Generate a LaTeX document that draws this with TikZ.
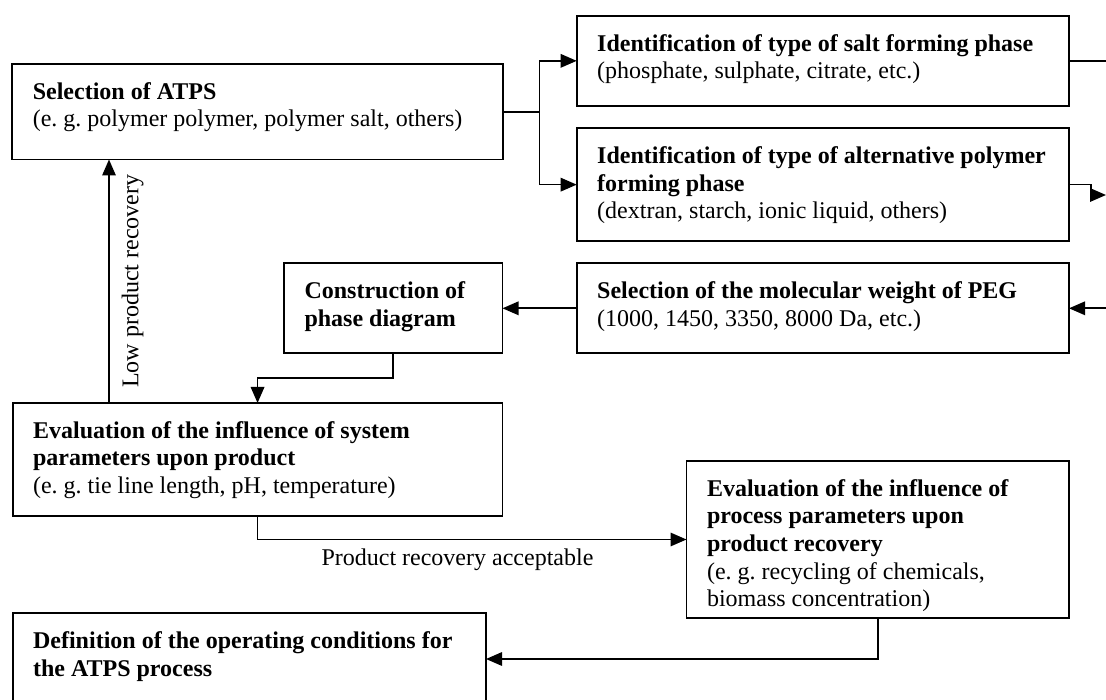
\documentclass[tikz,border=0pt]{standalone}
\usepackage{fontspec}
\setmainfont{Liberation Serif}
\usetikzlibrary{arrows.meta}
\newcommand{\boxtxt}[3]{\parbox[c][#2][t]{#1}{\raggedright #3}}
\frenchspacing
\begin{document}
\begin{tikzpicture}[x=1pt,y=-1pt,
  every node/.style={font=\fontsize{24}{27.6}\selectfont},
  box/.style={draw, line width=1.8pt, anchor=north west, inner xsep=20.5pt, inner ysep=18.5pt, outer sep=0pt},
  conn/.style={line width=1.6pt},
  arr/.style={conn, -{Triangle[length=16pt,width=13.5pt]}},
  lbl/.style={font=\fontsize{24}{27.6}\selectfont}]
\useasboundingbox (0,0) rectangle (1106,700);
\clip (0,0) rectangle (1106,700);

% boxes
\node[box] (A) at (12.3,64) {\boxtxt{449.3pt}{58.5pt}{\textbf{Selection of ATPS}\\(e. g. polymer polymer, polymer salt, others)}};
\node[box] (S) at (576.7,15.7) {\boxtxt{451.3pt}{53.3pt}{\textbf{Identification of type of salt forming phase}\\(phosphate, sulphate, citrate, etc.)}};
\node[box] (Alt) at (576.7,128.3) {\boxtxt{451.3pt}{75.7pt}{\textbf{Identification of type of alternative polymer}\\\textbf{forming phase}\\(dextran, starch, ionic liquid, others)}};
\node[box] (PEG) at (576.7,263.3) {\boxtxt{451.3pt}{53pt}{\textbf{Selection of the molecular weight of PEG}\\(1000, 1450, 3350, 8000 Da, etc.)}};
\node[box] (C) at (284,263.3) {\boxtxt{177.5pt}{53pt}{\textbf{Construction of}\\\textbf{phase diagram}}};
\node[box] (E) at (12.6,403) {\boxtxt{448.9pt}{75.7pt}{\textbf{Evaluation of the influence of system}\\\textbf{parameters upon product}\\(e. g. tie line length, pH, temperature)}};
\node[box] (P) at (686.5,461) {\boxtxt{341.5pt}{120pt}{\textbf{Evaluation of the influence of}\\\textbf{process parameters upon}\\\textbf{product recovery}\\(e. g. recycling of chemicals,\\biomass concentration)}};
\node[box] (D) at (12.6,613.3) {\boxtxt{432.4pt}{54.4pt}{\textbf{Definition of the operating conditions for}\\\textbf{the ATPS process}}};

% helper coordinates
\coordinate (R) at (1106,0);
\coordinate (brx) at (539.3,0);
\coordinate (br) at (A.east -| brx);
\coordinate (K) at (1091,195);
\coordinate (lowx) at (109,0);

% connectors
\draw[conn] (A.east) -- (br);
\draw[arr] (br) |- (S.west);
\draw[arr] (br) |- (Alt.west);
\draw[conn] (S.east) -- (S.east -| R);
\draw[arr] (Alt.east) -- (Alt.east -| K) -- (K) -- (K -| R);
\draw[arr] (PEG.east -| R) -- (PEG.east);
\draw[arr] (PEG.west) -- (C.east);
\draw[arr] (C.south) -- ++(0,25) -| (E.north);
\draw[arr] (E.north -| lowx) -- node[lbl, rotate=90, anchor=north, inner sep=12pt] {Low product recovery} (A.south -| lowx);
\draw[arr] (E.south) |- node[lbl, pos=0.733, anchor=north, inner sep=8.5pt] {Product recovery acceptable} (P.west);
\draw[arr] (P.south) |- (D.east);
\end{tikzpicture}
\end{document}
